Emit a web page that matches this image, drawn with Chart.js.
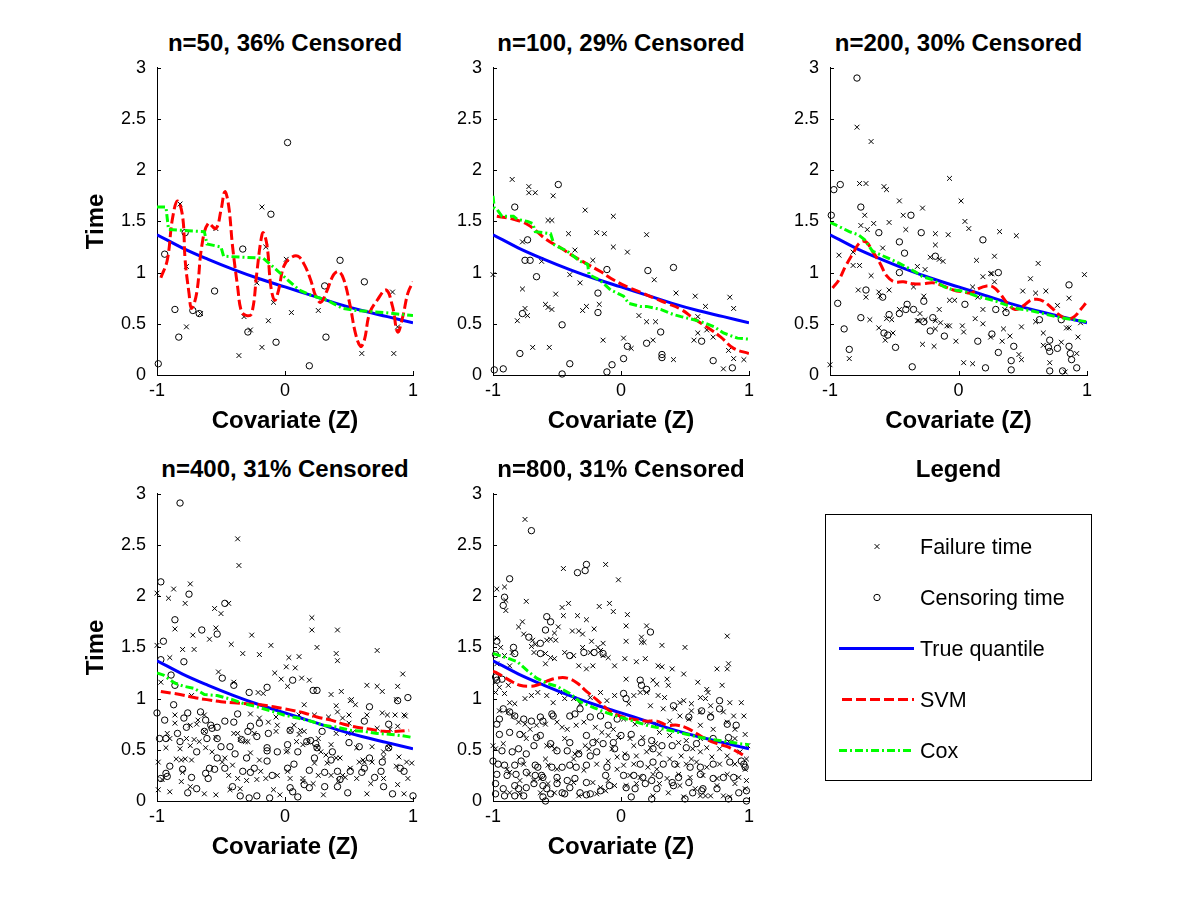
<!DOCTYPE html>
<html>
<head>
<meta charset="utf-8">
<script src="https://cdn.jsdelivr.net/npm/chart.js@4.4.0/dist/chart.umd.min.js"></script>
<style>
  html, body { margin:0; padding:0; background:#fff; }
  body { width:1200px; height:900px; position:relative; overflow:hidden; font-family:'Liberation Sans', Arial, sans-serif; }
  canvas { position:absolute; }
  .ttl { position:absolute; text-align:center; font-weight:bold; font-size:24px; line-height:28px; color:#000; white-space:nowrap; }
  .lgtxt { position:absolute; font-size:21.5px; line-height:26px; color:#000; white-space:nowrap; }
</style>
</head>
<body>
<script>
// ---------- tick labels ----------
const xTicks = [-1, 0, 1];
const xTickLabels = ['-1', '0', '1'];
const yTicks = [0, 0.5, 1, 1.5, 2, 2.5, 3];
const yTickLabels = ['0', '0.5', '1', '1.5', '2', '2.5', '3'];

const panelTitles = ['n=50, 36% Censored', 'n=100, 29% Censored', 'n=200, 30% Censored', 'n=400, 31% Censored', 'n=800, 31% Censored'];
const legendLabels = ['Failure time', 'Censoring time', 'True quantile', 'SVM', 'Cox'];

// ---------- true quantile (same in every panel) ----------
const trueZ = [-1, -0.8, -0.6, -0.4, -0.2, 0, 0.2, 0.4, 0.6, 0.8, 1];
const trueQ = [1.37, 1.24, 1.13, 1.03, 0.94, 0.86, 0.78, 0.70, 0.63, 0.57, 0.51];

// ---------- panel 1 (n=50) ----------
const p1Fail = [[-0.82,1.67],[-0.77,0.47],[-0.77,1.06],[-0.66,0.60],[-0.54,1.43],[-0.36,0.19],[-0.32,0.57],[-0.27,0.44],[-0.22,0.90],[-0.18,1.64],[-0.15,1.25],[-0.18,0.27],[-0.13,0.53],[-0.09,0.71],[0.01,1.13],[0.05,0.61],[0.26,0.63],[0.60,0.21],[0.84,0.81],[0.85,0.21],[0.88,0.47]];
const p1Cens = [[-0.99,0.11],[-0.94,1.18],[-0.86,0.64],[-0.83,0.37],[-0.78,1.39],[-0.72,0.63],[-0.67,0.60],[-0.55,0.82],[-0.33,1.23],[-0.29,0.42],[-0.11,1.57],[-0.07,0.32],[0.02,2.27],[0.19,0.09],[0.31,0.87],[0.32,0.37],[0.43,1.12],[0.62,0.91]];
const p1Svm = [[-0.97,0.95],[-0.92,1.12],[-0.88,1.52],[-0.84,1.70],[-0.80,1.55],[-0.78,1.12],[-0.75,0.80],[-0.73,0.65],[-0.69,0.80],[-0.65,1.26],[-0.60,1.48],[-0.54,1.43],[-0.50,1.61],[-0.47,1.79],[-0.44,1.65],[-0.41,1.26],[-0.37,0.86],[-0.34,0.62],[-0.30,0.58],[-0.26,0.60],[-0.22,1.00],[-0.19,1.30],[-0.17,1.39],[-0.14,1.26],[-0.11,0.86],[-0.08,0.73],[-0.05,0.83],[-0.01,1.06],[0.04,1.14],[0.10,1.16],[0.15,1.08],[0.20,0.93],[0.24,0.77],[0.28,0.71],[0.33,0.83],[0.38,0.98],[0.42,1.01],[0.46,0.93],[0.51,0.67],[0.55,0.41],[0.59,0.28],[0.62,0.34],[0.66,0.60],[0.72,0.73],[0.79,0.83],[0.84,0.67],[0.88,0.42],[0.92,0.57],[0.96,0.80],[1.0,0.91]];
const p1Cox = [[-1,1.64],[-0.93,1.64],[-0.91,1.42],[-0.63,1.40],[-0.61,1.28],[-0.50,1.25],[-0.48,1.16],[-0.17,1.14],[-0.06,1.02],[0.02,0.93],[0.11,0.83],[0.20,0.78],[0.33,0.73],[0.45,0.65],[0.56,0.63],[0.77,0.61],[1,0.58]];

// ---------- panel 2 (n=100) ----------
const p2Fail = [[-0.85,1.91],[-1.0,0.98],[-0.72,1.84],[-0.72,1.78],[-0.67,1.78],[-0.53,1.75],[-0.57,1.51],[-0.54,1.51],[-0.77,1.30],[-0.77,0.84],[-0.75,0.65],[-0.73,0.58],[-0.81,0.53],[-0.69,0.27],[-0.56,0.27],[-0.62,1.11],[-0.59,0.69],[-0.57,0.66],[-0.54,0.64],[-0.51,0.79],[-0.41,1.38],[-0.40,0.98],[-0.36,1.22],[-0.32,0.90],[-0.30,0.63],[-0.27,0.67],[-0.28,1.61],[-0.22,1.12],[-0.19,1.39],[-0.13,1.38],[-0.17,0.69],[-0.14,0.34],[-0.06,1.55],[-0.06,1.25],[0.05,1.20],[0.02,0.36],[0.08,0.26],[0.14,0.58],[0.20,1.37],[0.20,0.52],[0.26,0.93],[0.27,0.52],[0.25,0.34],[0.41,0.15],[0.43,0.80],[0.58,0.77],[0.60,0.41],[0.57,0.34],[0.66,0.67],[0.67,0.44],[0.72,0.37],[0.85,0.76],[0.88,0.65],[0.84,0.24],[0.80,0.06],[0.88,0.16],[0.96,0.15],[0.60,0.57]];
const p2Cens = [[-0.99,0.05],[-0.92,0.06],[-0.83,1.64],[-0.79,0.21],[-0.77,0.60],[-0.73,1.32],[-0.75,1.12],[-0.71,1.12],[-0.66,0.96],[-0.49,1.86],[-0.46,0.49],[-0.46,0.01],[-0.40,0.11],[-0.18,0.80],[-0.18,0.61],[-0.11,1.03],[-0.11,0.03],[-0.07,0.10],[0.02,0.16],[0.05,0.28],[0.20,0.31],[0.21,1.02],[0.31,0.42],[0.32,0.20],[0.32,0.17],[0.41,1.05],[0.63,0.33],[0.72,0.14],[0.87,0.07]];
const p2Svm = [[-0.97,1.55],[-0.84,1.52],[-0.73,1.47],[-0.58,1.32],[-0.47,1.24],[-0.37,1.16],[-0.26,1.08],[-0.16,1.01],[-0.06,0.93],[0.05,0.86],[0.15,0.81],[0.26,0.75],[0.36,0.70],[0.47,0.64],[0.57,0.55],[0.67,0.47],[0.78,0.37],[0.88,0.26],[1.0,0.21]];
const p2Cox = [[-1,1.75],[-0.99,1.63],[-0.97,1.62],[-0.93,1.55],[-0.84,1.55],[-0.81,1.52],[-0.73,1.50],[-0.69,1.48],[-0.67,1.40],[-0.55,1.38],[-0.53,1.30],[-0.52,1.27],[-0.42,1.21],[-0.32,1.11],[-0.26,1.08],[-0.25,0.98],[-0.17,0.93],[-0.08,0.83],[0.02,0.77],[0.06,0.70],[0.15,0.67],[0.20,0.67],[0.31,0.64],[0.41,0.59],[0.47,0.57],[0.57,0.54],[0.65,0.51],[0.73,0.47],[0.80,0.41],[0.91,0.36],[1.0,0.35]];

// ---------- panel 3 (n=200) ----------
const p3Fail = [[-0.79,2.42],[-0.68,2.28],[-0.77,1.87],[-0.72,1.87],[-0.58,1.84],[-0.56,1.81],[-0.46,1.70],[-0.28,1.63],[-0.07,1.92],[0.02,1.70],[0.05,1.50],[0.08,1.43],[-0.43,1.56],[-0.73,1.56],[-0.76,1.46],[-0.66,1.48],[-0.54,1.49],[-0.41,1.42],[-0.71,1.42],[-0.18,1.38],[-0.18,1.27],[-0.08,1.37],[0.32,1.40],[0.45,1.36],[-0.59,1.24],[-0.82,1.20],[-0.93,1.17],[-0.77,1.07],[-0.82,1.07],[-0.68,0.97],[-0.32,1.06],[-0.26,1.03],[-0.22,1.15],[-0.15,1.13],[-0.12,1.11],[0.14,1.12],[0.28,1.16],[0.62,1.09],[0.98,0.98],[0.19,0.96],[0.26,0.99],[0.11,0.86],[-0.35,0.86],[-0.78,0.83],[-0.72,0.76],[-0.62,0.81],[-0.54,0.83],[-0.61,0.77],[-0.07,0.73],[-0.03,0.73],[-0.27,0.77],[-0.15,0.64],[-0.30,0.60],[-0.31,0.53],[-0.46,0.64],[-0.56,0.55],[-0.52,0.54],[-0.69,0.54],[-0.62,0.46],[-0.57,0.34],[-0.51,0.41],[-0.85,0.16],[-1.0,0.10],[-0.32,0.53],[-0.26,0.54],[-0.18,0.45],[-0.18,0.53],[-0.14,0.51],[-0.09,0.48],[-0.07,0.48],[0.03,0.48],[0.04,0.42],[-0.02,0.33],[-0.28,0.30],[-0.19,0.28],[0.04,0.12],[0.11,0.11],[0.19,0.64],[0.19,0.50],[0.25,0.37],[0.34,0.33],[0.35,0.45],[0.40,0.38],[0.47,0.20],[0.49,0.15],[0.49,0.47],[0.50,0.82],[0.56,0.94],[0.60,0.80],[0.60,0.52],[0.68,0.82],[0.66,0.41],[0.66,0.29],[0.71,0.12],[0.77,0.68],[0.80,0.32],[0.84,0.46],[0.86,0.46],[0.86,0.75],[0.93,0.37],[0.92,0.21],[0.95,0.51],[0.83,0.03],[0.28,0.91],[0.25,0.99],[0.15,0.76],[0.13,0.55],[0.36,0.64]];
const p3Cens = [[-0.79,2.90],[-0.99,1.56],[-0.97,1.81],[-0.92,1.86],[-0.94,0.70],[-0.89,0.45],[-0.85,0.25],[-0.76,1.64],[-0.76,0.56],[-0.72,0.83],[-0.62,1.39],[-0.59,0.76],[-0.58,0.41],[-0.55,0.39],[-0.54,0.59],[-0.49,0.27],[-0.46,1.30],[-0.46,1.00],[-0.46,0.60],[-0.42,1.19],[-0.40,0.69],[-0.41,0.64],[-0.35,0.64],[-0.37,1.56],[-0.36,0.08],[-0.29,1.39],[-0.27,0.72],[-0.27,0.52],[-0.22,0.43],[-0.20,0.56],[-0.18,1.16],[-0.11,0.38],[0.05,0.69],[0.15,0.33],[0.19,1.32],[0.21,0.07],[0.26,0.40],[0.31,1.00],[0.31,0.22],[0.29,0.64],[0.37,0.61],[0.41,0.14],[0.41,0.05],[0.43,0.28],[0.63,0.54],[0.71,0.34],[0.70,0.27],[0.71,0.23],[0.77,0.26],[0.71,0.04],[0.81,0.04],[0.86,0.88],[0.86,0.28],[0.87,0.21],[0.88,0.15],[0.92,0.07],[0.80,0.54]];
const p3Svm = [[-0.98,0.85],[-0.93,0.93],[-0.88,1.06],[-0.82,1.19],[-0.77,1.29],[-0.72,1.30],[-0.67,1.21],[-0.61,1.09],[-0.56,0.97],[-0.50,0.91],[-0.43,0.91],[-0.35,0.89],[-0.28,0.89],[-0.20,0.90],[-0.12,0.87],[-0.04,0.83],[0.04,0.81],[0.10,0.80],[0.15,0.84],[0.22,0.87],[0.27,0.86],[0.32,0.80],[0.38,0.70],[0.44,0.64],[0.51,0.68],[0.56,0.73],[0.61,0.74],[0.66,0.72],[0.73,0.65],[0.78,0.59],[0.84,0.55],[0.90,0.57],[0.95,0.64],[0.99,0.70]];
const p3Cox = [[-1,1.49],[-0.93,1.45],[-0.85,1.40],[-0.78,1.37],[-0.73,1.32],[-0.67,1.21],[-0.60,1.17],[-0.51,1.12],[-0.46,1.09],[-0.34,1.01],[-0.28,0.96],[-0.20,0.93],[-0.11,0.86],[-0.04,0.83],[0.04,0.82],[0.14,0.77],[0.27,0.73],[0.38,0.68],[0.45,0.65],[0.56,0.63],[0.69,0.59],[0.79,0.56],[0.90,0.54],[1.0,0.52]];

// ---------- panel 4 (n=400) ----------
const p4Fail = [[-0.37,2.56],[-0.36,2.30],[-1.0,2.03],[-0.91,1.98],[-0.87,2.07],[-0.74,2.12],[-0.78,1.93],[-0.55,1.88],[-0.50,1.83],[-0.44,1.93],[-0.86,1.68],[-0.72,1.62],[-0.59,1.58],[-0.54,1.69],[-0.26,1.62],[0.21,1.79],[0.21,1.67],[0.41,1.67],[-0.42,1.53],[-1.0,1.52],
[-0.80,1.48],[-0.71,1.48],[-0.90,1.40],[-0.33,1.44],[-0.20,1.43],[-0.11,1.52],[0.03,1.40],[0.11,1.41],[0.08,1.30],[0.01,1.31],[-0.08,1.25],[-0.03,1.19],[0.02,1.12],[0.13,1.20],[0.19,1.18],[0.25,1.50],[0.40,1.44],[0.41,1.37],[0.36,1.04],[0.44,1.07],[0.51,0.98],[0.64,1.13],[0.72,1.47],[0.72,1.12],[0.76,1.07],[0.92,1.24],[0.88,1.12],[0.87,0.99],[-0.52,1.26],[-0.40,1.16],[-0.21,1.06],[-0.17,1.05],[-0.97,1.16],[-0.73,1.03],[0.40,0.93],
[-0.99,0.38],[-0.93,0.52],[-0.92,0.66],[-0.86,0.84],[-0.86,0.76],[-0.82,0.51],[-0.81,0.40],[-0.80,0.28],[-0.81,0.19],[-0.96,0.21],[-0.99,0.11],[-0.85,0.41],[-0.78,0.41],[-0.74,0.54],[-0.77,0.61],[-0.74,0.74],[-0.69,0.75],[-0.67,0.58],[-0.73,0.40],[-0.63,0.68],[-0.57,0.48],[-0.54,0.62],[-0.49,0.38],[-0.44,0.25],[-0.43,0.11],[-0.54,0.06],[-0.40,0.66],[-0.37,0.66],[-0.29,0.58],[-0.27,0.47],[-0.22,0.21],[-0.30,0.20],[-0.20,0.40],[-0.13,0.77],[-0.07,0.82],[-0.07,0.68],[-0.09,0.11],[0.01,0.48],[0.02,0.49],[0.04,0.69],[0.14,0.55],[0.15,0.68],[0.18,0.58],[0.14,0.22],[0.23,0.37],[0.22,0.17],[0.26,0.61],[0.33,0.37],[0.36,0.55],[0.40,0.42],[0.40,0.66],[0.42,0.20],[0.45,0.25],[0.47,0.23],[0.45,0.81],[0.49,0.66],[0.51,0.32],[0.52,0.99],[0.53,0.67],[0.58,0.38],[0.61,0.40],[0.68,0.53],[0.68,0.38],[0.72,0.71],[0.76,0.86],[0.77,0.48],[0.81,0.55],[0.86,0.84],[0.88,0.73],[0.82,0.70],[0.87,0.34],[0.89,0.43],[0.95,0.38],[0.96,0.22],[0.99,0.37],[0.94,0.83],[0.81,0.52],[0.50,0.76],[0.12,0.69],[0.09,0.58],[0.02,0.29],[0.14,0.19],
[-0.68,0.79],[-0.63,0.84],[-0.27,0.85],[-0.20,0.81],[0.11,0.84],[0.15,0.94],[0.23,0.84],[0.34,0.82],[0.41,0.87],[0.50,0.84],[0.55,0.94],[0.64,0.84],[0.80,0.84],[0.93,0.84],[-0.35,0.60],[-0.31,0.58],[-0.24,0.66],[-0.06,0.74],[0.07,0.74],[0.11,0.65],[0.25,0.52],[0.28,0.48],[0.32,0.45],[0.43,0.42],[0.56,0.52],[0.62,0.38],[0.77,0.43],[-0.90,0.61],[-0.71,0.60],[-0.62,0.52],[-0.47,0.42],[-0.41,0.35],[-0.37,0.22],[-0.19,0.29],[-0.15,0.22],[-0.06,0.25],[0.04,0.22],[0.26,0.25],[0.36,0.25],[0.56,0.22],[0.67,0.17],[0.77,0.22],[0.88,0.16],[-0.90,0.09],[-0.74,0.14],[-0.63,0.07],[-0.35,0.12],[-0.04,0.06],[0.30,0.06],[0.64,0.07],[0.93,0.07]];
const p4Cens = [[-0.82,2.91],[-0.97,2.14],[-0.75,2.02],[-0.86,1.77],[-0.47,1.93],[-0.65,1.67],[-0.53,1.63],[-0.95,1.56],
[-0.97,1.38],[-0.79,1.36],[-0.89,1.23],[-0.86,1.13],[-0.49,1.20],[-0.40,1.13],[-0.28,1.06],[-0.14,1.11],[0.06,1.18],[0.22,1.08],[0.25,1.08],[0.96,1.01],
[-1.0,0.86],[-0.94,0.79],[-0.87,0.94],[-0.79,0.81],[-0.76,0.86],[-0.77,0.72],[-0.66,0.87],[-0.62,0.79],[-0.58,0.74],[-0.57,0.71],[-0.61,0.61],[-0.53,0.61],[-0.47,0.78],[-0.40,0.77],[-0.37,0.85],[-0.29,0.68],[-0.34,0.60],[-0.20,0.76],[-0.13,0.66],[-0.22,0.63],[-0.14,0.52],[-0.14,0.49],[-0.14,0.39],[0.04,0.69],[0.02,0.55],[0.20,0.59],[0.25,0.52],[0.29,0.68],[0.37,0.48],[0.50,0.57],[0.58,0.53],[0.62,0.78],[0.66,0.92],[0.88,0.98],[0.81,0.75],[0.81,0.52],[0.76,0.38],[0.93,0.29],[1.0,0.05],[0.84,0.07],[0.49,0.08],[0.31,0.14],[0.19,0.13],[0.15,0.16],[0.10,0.04],[0.06,0.09],[0.04,0.13],[0.02,0.32],[0.07,0.36],[0.23,0.42],[0.19,0.30],[0.31,0.28],[0.36,0.40],[0.43,0.21],[0.60,0.28],[0.62,0.32],[0.70,0.23],[0.66,0.42],[-0.12,0.03],[-0.22,0.05],[-0.28,0.03],[-0.35,0.05],[-0.41,0.14],[-0.27,0.28],[-0.33,0.29],[-0.30,0.42],[-0.39,0.46],[-0.43,0.53],[-0.50,0.53],[-0.47,0.32],[-0.59,0.32],[-0.55,0.31],[-0.62,0.27],[-0.60,0.22],[-0.73,0.23],[-0.76,0.08],[-0.80,0.31],[-0.90,0.34],[-0.93,0.27],[-0.92,0.24],[-0.93,0.61],[-0.98,0.61],[-0.84,0.66],
[-0.63,0.68],[-0.53,0.72],[-0.27,0.73],[0.17,0.58],[0.24,0.56],[0.10,0.48],[-0.06,0.48],[-0.69,0.48],[-0.82,0.58],[-0.53,0.42],[-0.24,0.32],[-0.10,0.25],[0.41,0.29],[0.51,0.29],[0.75,0.29],[0.90,0.32],[-0.69,0.12],[0.41,0.14],[0.77,0.14],[-0.97,0.22]];
const p4Svm = [[-0.97,1.07],[-0.82,1.04],[-0.71,1.01],[-0.61,0.99],[-0.50,0.97],[-0.40,0.96],[-0.30,0.95],[-0.19,0.94],[-0.09,0.92],[0.04,0.89],[0.15,0.86],[0.25,0.82],[0.36,0.79],[0.46,0.75],[0.56,0.72],[0.67,0.70],[0.77,0.68],[0.88,0.68],[0.97,0.69]];
const p4Cox = [[-1,1.25],[-0.95,1.23],[-0.86,1.15],[-0.79,1.12],[-0.71,1.10],[-0.63,1.04],[-0.53,1.03],[-0.41,0.99],[-0.32,0.95],[-0.22,0.92],[-0.11,0.88],[-0.01,0.84],[0.10,0.81],[0.20,0.78],[0.30,0.74],[0.41,0.72],[0.51,0.69],[0.62,0.68],[0.72,0.66],[0.83,0.65],[0.90,0.64],[1.0,0.62]];

// ---------- panel 5 (n=800) ----------
const p5Fail = [[-0.75,2.75],[-0.97,2.07],[-0.91,2.09],[-0.90,1.96],[-0.90,1.86],[-0.74,1.95],[-0.45,2.27],[-0.12,2.31],[-0.02,2.16],[-0.46,1.89],[-0.41,1.93],[-0.45,1.81],[-0.34,1.81],[-0.27,1.77],[-0.17,1.90],[-0.09,1.93],[-0.06,1.85],[-0.77,1.75],[-0.80,1.70],[-0.76,1.63],[-0.49,1.70],[-0.52,1.64],[-0.55,1.58],[-0.58,1.57],[-0.51,1.57],[-0.38,1.66],[-0.33,1.66],[-0.30,1.63],[-0.21,1.68],[-0.23,1.56],[-0.14,1.54],[-0.69,1.57],[-0.67,1.53],[-0.97,1.59],[-0.94,1.50],[-0.70,1.51],[-0.30,1.50],[-0.18,1.50],
[0.05,1.82],[0.04,1.71],[0.20,1.71],[0.04,1.56],[0.16,1.60],[0.16,1.55],[0.18,1.55],[0.32,1.52],[0.83,1.61],[0.50,1.50],
[-0.91,1.42],[-0.85,1.45],[-0.68,1.45],[-0.59,1.44],[-0.55,1.40],[-0.52,1.39],[-0.44,1.45],[-0.37,1.42],[-0.24,1.45],[-0.16,1.47],[-0.14,1.42],[-0.10,1.40],[-0.97,1.34],[-0.87,1.32],[-0.59,1.34],[-0.33,1.32],[-0.27,1.29],[-0.22,1.32],[-0.05,1.32],[-0.98,1.16],[-0.95,1.11],[-0.88,1.13],[-0.98,1.06],[-0.91,1.05],[-0.87,0.96],[-0.83,0.95],[-0.75,1.00],[-0.70,1.03],[-0.65,1.06],[-0.58,1.03],[-0.53,0.96],[-0.48,1.06],[-0.44,1.00],[-0.37,1.00],[-0.32,0.95],[-0.24,1.01],[-0.16,1.06],[-0.11,0.98],[-0.05,1.03],[-0.95,0.88],[-0.88,0.87],[-0.84,0.83],[-0.80,0.77],[-0.75,0.75],[-0.71,0.70],[-0.66,0.74],[-0.59,0.75],[-0.50,0.77],[-0.46,0.72],[-0.42,0.70],[-0.35,0.74],[-0.29,0.77],[-0.20,0.72],[-0.15,0.67],[-0.10,0.64],[-0.06,0.70],[-0.02,0.62],[-1.0,0.54],[-0.98,0.51],[-0.92,0.56],[-0.76,0.65],[-0.74,0.61],[-0.58,0.54],[-0.54,0.54],[-0.52,0.51],[-0.44,0.61],[-0.36,0.46],[-0.33,0.48],[-0.28,0.54],[-0.25,0.51],[-0.19,0.59],[-0.07,0.51],[-0.03,0.43],[-0.89,0.31],[-0.87,0.28],[-0.76,0.36],[-0.72,0.26],[-0.59,0.41],[-0.57,0.35],[-0.50,0.31],[-0.37,0.41],[-0.29,0.30],[-0.19,0.36],[-0.10,0.39],[-0.03,0.31],[-0.79,0.20],[-0.68,0.20],[-0.63,0.22],[-0.57,0.17],[-0.49,0.20],[-0.37,0.18],[-0.22,0.18],[-0.16,0.13],[-0.10,0.20],[-0.05,0.15],[-0.87,0.08],[-0.79,0.07],[-0.63,0.08],[-0.52,0.08],[-0.33,0.05],[-0.19,0.07],[-0.12,0.10],
[0.03,1.39],[0.12,1.36],[0.19,1.39],[0.29,1.32],[0.32,1.31],[0.40,1.29],[0.49,1.24],[0.75,1.29],[0.84,1.34],[0.83,1.29],[0.04,1.19],[0.25,1.18],[0.28,1.14],[0.36,1.19],[0.37,1.13],[0.60,1.16],[0.67,1.09],[0.68,1.06],[0.79,1.13],[0.10,1.03],[0.15,1.06],[0.20,1.06],[0.29,1.03],[0.34,1.01],[0.46,0.96],[0.49,0.98],[0.55,0.95],[0.62,1.01],[0.66,1.00],[0.70,0.93],[0.85,0.96],[0.94,0.96],[0.06,0.95],[0.23,0.93],[0.33,0.90],[0.42,0.90],[0.55,0.88],[0.62,0.87],[0.70,0.85],[0.80,0.87],[0.88,0.83],[0.96,0.83],[0.02,0.80],[0.11,0.75],[0.20,0.77],[0.28,0.75],[0.38,0.78],[0.46,0.83],[0.53,0.80],[0.62,0.74],[0.72,0.70],[0.83,0.77],[0.89,0.70],[0.97,0.65],[0.07,0.61],[0.10,0.54],[0.17,0.62],[0.23,0.52],[0.27,0.56],[0.30,0.67],[0.38,0.64],[0.45,0.57],[0.51,0.59],[0.56,0.51],[0.62,0.61],[0.67,0.52],[0.77,0.51],[0.85,0.57],[0.89,0.61],[0.99,0.54],[0.03,0.46],[0.12,0.44],[0.20,0.48],[0.30,0.46],[0.38,0.41],[0.47,0.44],[0.55,0.41],[0.62,0.48],[0.71,0.43],[0.83,0.44],[0.93,0.48],[0.98,0.41],[0.02,0.35],[0.10,0.36],[0.21,0.33],[0.28,0.31],[0.44,0.35],[0.51,0.36],[0.59,0.38],[0.67,0.33],[0.77,0.36],[0.89,0.36],[0.97,0.31],[0.07,0.25],[0.15,0.23],[0.25,0.26],[0.36,0.22],[0.45,0.26],[0.54,0.23],[0.64,0.25],[0.75,0.22],[0.83,0.26],[0.92,0.23],[0.98,0.20],[0.04,0.15],[0.12,0.17],[0.30,0.17],[0.37,0.08],[0.46,0.15],[0.58,0.12],[0.66,0.05],[0.75,0.15],[0.80,0.05],[0.89,0.17],[0.97,0.12],[0.25,0.05],[0.49,0.04],[0.62,0.05],[0.70,0.05],[0.85,0.04]];
const p5Cens = [[-0.70,2.64],[-0.87,2.17],[-0.91,1.99],[-0.92,1.91],[-0.34,2.23],[-0.28,2.25],[-0.27,2.31],[-0.58,1.80],[-0.55,1.75],[-0.59,1.67],[-0.72,1.60],[-0.63,1.54],[-0.97,1.56],[-0.84,1.50],[0.23,1.65],
[-0.98,1.43],[-0.83,1.44],[-0.63,1.44],[-0.40,1.42],[-0.29,1.45],[-0.21,1.45],[-0.14,1.44],[-0.93,1.19],[-0.98,1.21],[-0.97,1.18],[-0.92,0.90],[-0.95,0.80],[-0.97,0.75],[-0.87,0.87],[-0.83,0.83],[-0.76,0.80],[-0.70,0.78],[-0.63,0.82],[-0.61,0.78],[-0.54,0.85],[-0.53,0.83],[-0.40,0.83],[-0.36,0.85],[-0.32,0.90],[-0.24,0.82],[-0.16,0.83],[-0.10,0.74],[-0.03,0.80],[-0.95,0.65],[-0.87,0.67],[-0.79,0.65],[-0.66,0.62],[-0.63,0.64],[-0.55,0.56],[-0.40,0.57],[-0.27,0.64],[-0.22,0.57],[-0.14,0.56],[-0.06,0.57],[-0.93,0.49],[-0.85,0.48],[-0.80,0.51],[-0.74,0.46],[-0.68,0.54],[-0.50,0.49],[-0.42,0.49],[-0.33,0.46],[-0.24,0.44],[-0.19,0.48],[-0.05,0.51],[-1.0,0.39],[-0.96,0.36],[-0.91,0.35],[-0.83,0.35],[-0.78,0.39],[-0.67,0.35],[-0.65,0.33],[-0.54,0.33],[-0.46,0.33],[-0.40,0.35],[-0.35,0.33],[-0.27,0.35],[-0.11,0.33],[-0.97,0.26],[-0.89,0.25],[-0.82,0.26],[-0.74,0.28],[-0.67,0.25],[-0.62,0.25],[-0.61,0.23],[-0.50,0.23],[-0.42,0.20],[-0.36,0.22],[-0.27,0.18],[-0.12,0.25],[-0.98,0.17],[-0.92,0.12],[-0.83,0.15],[-0.80,0.12],[-0.74,0.13],[-0.68,0.17],[-0.61,0.15],[-0.58,0.12],[-0.50,0.17],[-0.46,0.08],[-0.40,0.13],[-0.32,0.08],[-0.24,0.07],[-0.16,0.10],[-0.09,0.15],[-0.98,0.07],[-0.91,0.05],[-0.83,0.05],[-0.76,0.05],[-0.61,0.04],[-0.59,0.00],[-0.55,0.07],[-0.44,0.07],[-0.27,0.06],
[0.02,1.05],[0.04,1.00],[0.15,1.18],[0.16,1.13],[0.20,1.09],[0.77,0.98],[0.77,0.90],[0.63,0.88],[0.70,0.82],[0.53,0.82],[0.41,0.93],[0.83,0.75],[0.90,0.74],[0.00,0.64],[0.08,0.65],[0.16,0.57],[0.24,0.59],[0.25,0.51],[0.32,0.54],[0.40,0.54],[0.51,0.52],[0.59,0.56],[0.72,0.61],[0.84,0.62],[0.96,0.36],[0.97,0.33],[0.04,0.43],[0.15,0.36],[0.25,0.38],[0.33,0.36],[0.42,0.36],[0.54,0.33],[0.62,0.33],[0.72,0.36],[0.85,0.38],[0.94,0.39],[0.02,0.25],[0.10,0.25],[0.17,0.23],[0.24,0.20],[0.30,0.25],[0.40,0.18],[0.45,0.23],[0.53,0.18],[0.62,0.26],[0.72,0.22],[0.80,0.23],[0.88,0.23],[0.04,0.13],[0.11,0.12],[0.19,0.17],[0.28,0.12],[0.41,0.15],[0.56,0.08],[0.64,0.12],[0.75,0.12],[0.92,0.08],[0.98,0.10],[0.08,0.04],[0.24,0.02],[0.50,0.02],[0.63,0.10],[0.84,0.02],[0.98,0.00]];
const p5Svm = [[-1,1.27],[-0.94,1.23],[-0.86,1.17],[-0.79,1.13],[-0.71,1.12],[-0.66,1.13],[-0.58,1.17],[-0.50,1.20],[-0.42,1.20],[-0.34,1.15],[-0.27,1.07],[-0.19,0.99],[-0.11,0.90],[-0.03,0.84],[0.05,0.81],[0.13,0.79],[0.20,0.78],[0.28,0.78],[0.36,0.74],[0.44,0.74],[0.52,0.71],[0.59,0.66],[0.67,0.60],[0.75,0.56],[0.83,0.53],[0.91,0.48],[0.98,0.43]];
const p5Cox = [[-1,1.44],[-0.92,1.41],[-0.81,1.36],[-0.73,1.27],[-0.66,1.20],[-0.58,1.15],[-0.50,1.12],[-0.40,1.05],[-0.32,0.97],[-0.21,0.91],[-0.11,0.86],[-0.01,0.82],[0.10,0.78],[0.20,0.74],[0.31,0.71],[0.41,0.68],[0.52,0.65],[0.62,0.62],[0.72,0.60],[0.83,0.58],[0.93,0.56],[1.0,0.55]];

// ---------- layout ----------
const FONT = "'Liberation Sans', Arial, Helvetica, sans-serif";
Chart.defaults.font.family = FONT;
Chart.defaults.color = '#000';

const panels = [
  {L:157, T:68,  W:256, H:307, fail:p1Fail, cens:p1Cens, svm:p1Svm, cox:p1Cox, time:true},
  {L:493, T:68,  W:256, H:307, fail:p2Fail, cens:p2Cens, svm:p2Svm, cox:p2Cox, time:false},
  {L:830, T:68,  W:257, H:307, fail:p3Fail, cens:p3Cens, svm:p3Svm, cox:p3Cox, time:false},
  {L:157, T:494, W:256, H:307, fail:p4Fail, cens:p4Cens, svm:p4Svm, cox:p4Cox, time:true},
  {L:493, T:494, W:256, H:307, fail:p5Fail, cens:p5Cens, svm:p5Svm, cox:p5Cox, time:false}
];
const PADL = 100, PADT = 10, PADR = 20, PADB = 80;

const xy = a => a.map(([x, y]) => ({x, y}));
const trueLine = trueZ.map((z, i) => ({x: z, y: trueQ[i]}));

const inwardTicks = {
  id: 'inwardTicks',
  afterDraw(chart) {
    const {ctx, chartArea: a, scales: {x, y}} = chart;
    ctx.save();
    ctx.strokeStyle = '#000';
    ctx.lineWidth = 1;
    ctx.beginPath();
    xTicks.forEach(v => { const px = Math.round(x.getPixelForValue(v)) + 0.5; ctx.moveTo(px, a.bottom); ctx.lineTo(px, a.bottom - 4); });
    yTicks.forEach(v => { const py = Math.round(y.getPixelForValue(v)) + 0.5; ctx.moveTo(a.left, py); ctx.lineTo(a.left + 4, py); });
    ctx.stroke();
    ctx.restore();
  }
};

function buildChart(p, cw, ch) {
  const c = document.createElement('canvas');
  c.width = cw; c.height = ch;
  c.style.width = cw + 'px'; c.style.height = ch + 'px';
  c.style.left = '0px'; c.style.top = '0px';
  document.body.appendChild(c);
  const chart = new Chart(c, {
    type: 'scatter',
    data: {
      datasets: [
        {label: 'Cox', data: xy(p.cox), showLine: true, borderColor: '#00ff00', borderWidth: 3, borderDash: [8, 3, 2, 3], pointRadius: 0, tension: 0, fill: false},
        {label: 'SVM', data: xy(p.svm), showLine: true, borderColor: '#ff0000', borderWidth: 3, borderDash: [10, 4], pointRadius: 0, tension: 0.4, fill: false},
        {label: 'True quantile', data: trueLine, showLine: true, borderColor: '#0000ff', borderWidth: 3, pointRadius: 0, tension: 0.4, fill: false},
        {label: 'Censoring time', data: xy(p.cens), pointStyle: 'circle', pointRadius: 3.2, borderColor: '#000', borderWidth: 1, backgroundColor: 'rgba(0,0,0,0)', clip: false},
        {label: 'Failure time', data: xy(p.fail), pointStyle: 'crossRot', pointRadius: 3.4, borderColor: '#000', borderWidth: 1, clip: false}
      ]
    },
    options: {
      responsive: false,
      maintainAspectRatio: false,
      animation: false,
      events: [],
      layout: {padding: {left: 0, top: PADT, right: PADR, bottom: 0}},
      plugins: {legend: {display: false}, tooltip: {enabled: false}, title: {display: false}},
      scales: {
        x: {
          type: 'linear', min: -1, max: 1, position: 'bottom',
          afterBuildTicks: s => { s.ticks = xTicks.map(v => ({value: v})); },
          afterFit: s => { s.height = PADB; },
          grid: {display: false, drawTicks: false},
          border: {display: true, color: '#000', width: 1},
          ticks: {color: '#000', font: {size: 18}, padding: 5, maxRotation: 0, autoSkip: false,
                  callback: (v, i) => xTickLabels[i]},
          title: {display: true, text: 'Covariate (Z)', color: '#000', font: {size: 24, weight: 'bold'}, padding: {top: 0, bottom: 19}}
        },
        y: {
          type: 'linear', min: 0, max: 3, position: 'left',
          afterBuildTicks: s => { s.ticks = yTicks.map(v => ({value: v})); },
          afterFit: s => { s.width = PADL; },
          grid: {display: false, drawTicks: false},
          border: {display: true, color: '#000', width: 1},
          ticks: {color: '#000', font: {size: 18}, padding: 11, autoSkip: false,
                  callback: (v, i) => yTickLabels[i]},
          title: {display: p.time, text: 'Time', color: '#000', font: {size: 24, weight: 'bold'}, padding: {top: 25, bottom: 0}}
        }
      }
    },
    plugins: [inwardTicks]
  });
  return {c, chart};
}

panels.forEach((p, idx) => {
  const t = document.createElement('div');
  t.className = 'ttl';
  t.style.left = p.L + 'px';
  t.style.width = p.W + 'px';
  t.style.top = (p.T - 39) + 'px';
  t.textContent = panelTitles[idx];
  document.body.appendChild(t);

  // first pass: measure where the library puts the plot area, then size the canvas so it lands on the panel box
  let cw = p.W + PADL + PADR, ch = p.H + PADT + PADB;
  let r = buildChart(p, cw, ch);
  const a = r.chart.chartArea;
  const dw = p.W - (a.right - a.left), dh = p.H - (a.bottom - a.top);
  if (Math.abs(dw) > 0.01 || Math.abs(dh) > 0.01) {
    r.chart.destroy(); r.c.remove();
    cw += dw; ch += dh;
    r = buildChart(p, Math.round(cw), Math.round(ch));
  }
  const a2 = r.chart.chartArea;
  r.c.style.left = (p.L - a2.left) + 'px';
  r.c.style.top = (p.T - a2.top) + 'px';
});

// ---------- legend panel ----------
(function () {
  const t = document.createElement('div');
  t.className = 'ttl';
  t.style.left = '830px'; t.style.width = '257px'; t.style.top = (494 - 39) + 'px';
  t.textContent = 'Legend';
  document.body.appendChild(t);

  const box = document.createElement('div');
  box.style.cssText = 'position:absolute;left:825px;top:514px;width:267px;height:267px;border:1px solid #000;box-sizing:border-box;';
  document.body.appendChild(box);

  const rowsY = [546.5, 597.5, 648.5, 699.5, 750.5];
  const svgNS = 'http://www.w3.org/2000/svg';
  const svg = document.createElementNS(svgNS, 'svg');
  svg.setAttribute('width', '1200'); svg.setAttribute('height', '900');
  svg.style.cssText = 'position:absolute;left:0;top:0;';
  const mk = (tag, attrs) => { const e = document.createElementNS(svgNS, tag); for (const k in attrs) e.setAttribute(k, attrs[k]); svg.appendChild(e); return e; };
  const mx = 877, d = 2.4;
  mk('path', {d: `M${mx-d} ${rowsY[0]-d} L${mx+d} ${rowsY[0]+d} M${mx-d} ${rowsY[0]+d} L${mx+d} ${rowsY[0]-d}`, stroke: '#000', 'stroke-width': 1, fill: 'none'});
  mk('circle', {cx: mx, cy: rowsY[1], r: 3.2, stroke: '#000', 'stroke-width': 1, fill: 'none'});
  mk('line', {x1: 839, y1: rowsY[2], x2: 914, y2: rowsY[2], stroke: '#0000ff', 'stroke-width': 3});
  mk('line', {x1: 842, y1: rowsY[3], x2: 914, y2: rowsY[3], stroke: '#ff0000', 'stroke-width': 3, 'stroke-dasharray': '10 4'});
  mk('line', {x1: 839, y1: rowsY[4], x2: 912, y2: rowsY[4], stroke: '#00ff00', 'stroke-width': 3, 'stroke-dasharray': '8 3 2 3'});
  document.body.appendChild(svg);

  legendLabels.forEach((txt, i) => {
    const s = document.createElement('div');
    s.className = 'lgtxt';
    s.style.left = '920px';
    s.style.top = (rowsY[i] - 13) + 'px';
    s.textContent = txt;
    document.body.appendChild(s);
  });
})();
</script>
</body>
</html>
